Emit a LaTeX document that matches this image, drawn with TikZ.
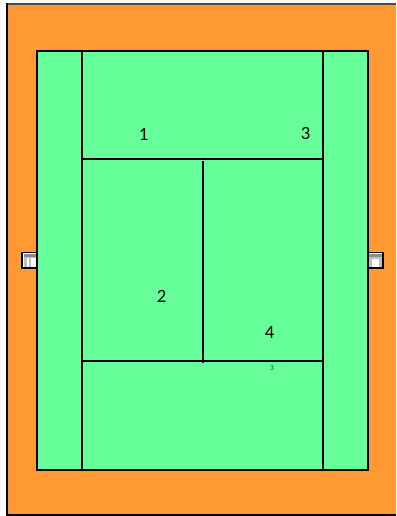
\documentclass[tikz,border=0pt]{standalone}
\usepackage{fontspec}
\setmainfont{Carlito}
\definecolor{clay}{HTML}{FF9933}
\definecolor{courtgreen}{HTML}{66FF99}
\definecolor{darkgreen}{HTML}{1F5F3A}
\tikzset{
  x=0.75pt,y=-0.75pt,
  courtline/.style={draw=black,line width=1.65pt},
  num/.style={inner sep=0pt,font=\fontsize{14}{16}\selectfont,text=black},
  tiny3/.style={inner sep=0pt,font=\fontsize{6}{7}\selectfont,text=darkgreen},
  postbox/.style={draw=black,line width=1.4pt,fill=white}
}
\begin{document}
\begin{tikzpicture}
\useasboundingbox (0,0) rectangle (396,516);
\fill[white] (0,0) rectangle (396,516);
% surround
\fill[clay] (7,4) rectangle (396,515);
\draw[black!70,line width=1.1pt] (7,4) -- (396,4);
\draw[black,line width=1.2pt] (7,3.5) -- (7,515) -- (396,515);
% net posts
\draw[postbox] (22,252.5) rectangle (37,268);
\fill[black!45] (24,254) rectangle (36,257);
\fill[black!25] (24,257) rectangle (36,266.5);
\fill[white] (27,258) rectangle (29,266.5);
\fill[white] (31,258) rectangle (36,266.5);
\draw[postbox] (368,252.5) rectangle (383,268);
\fill[black!45] (369,254) rectangle (381.5,257);
\fill[black!25] (369,257) rectangle (381.5,266.5);
\fill[white] (372,259) rectangle (379,266.5);
% court
\draw[courtline,fill=courtgreen] (37,51) rectangle (368,470);
\draw[courtline] (82,51) -- (82,470);
\draw[courtline] (323,51) -- (323,470);
\draw[courtline] (82,159) -- (323,159);
\draw[courtline] (82,361) -- (323,361);
\draw[courtline] (203,161) -- (203,363);
% labels
\node[num] (n1) at (143.5,134) {1};
\node[num] (n3) at (305.5,134) {3};
\node[num] (n2) at (161.5,296.5) {2};
\node[num] (n4) at (269.5,333) {4};
\node[tiny3] (n5) at (272,367.5) {3};
\end{tikzpicture}
\end{document}
